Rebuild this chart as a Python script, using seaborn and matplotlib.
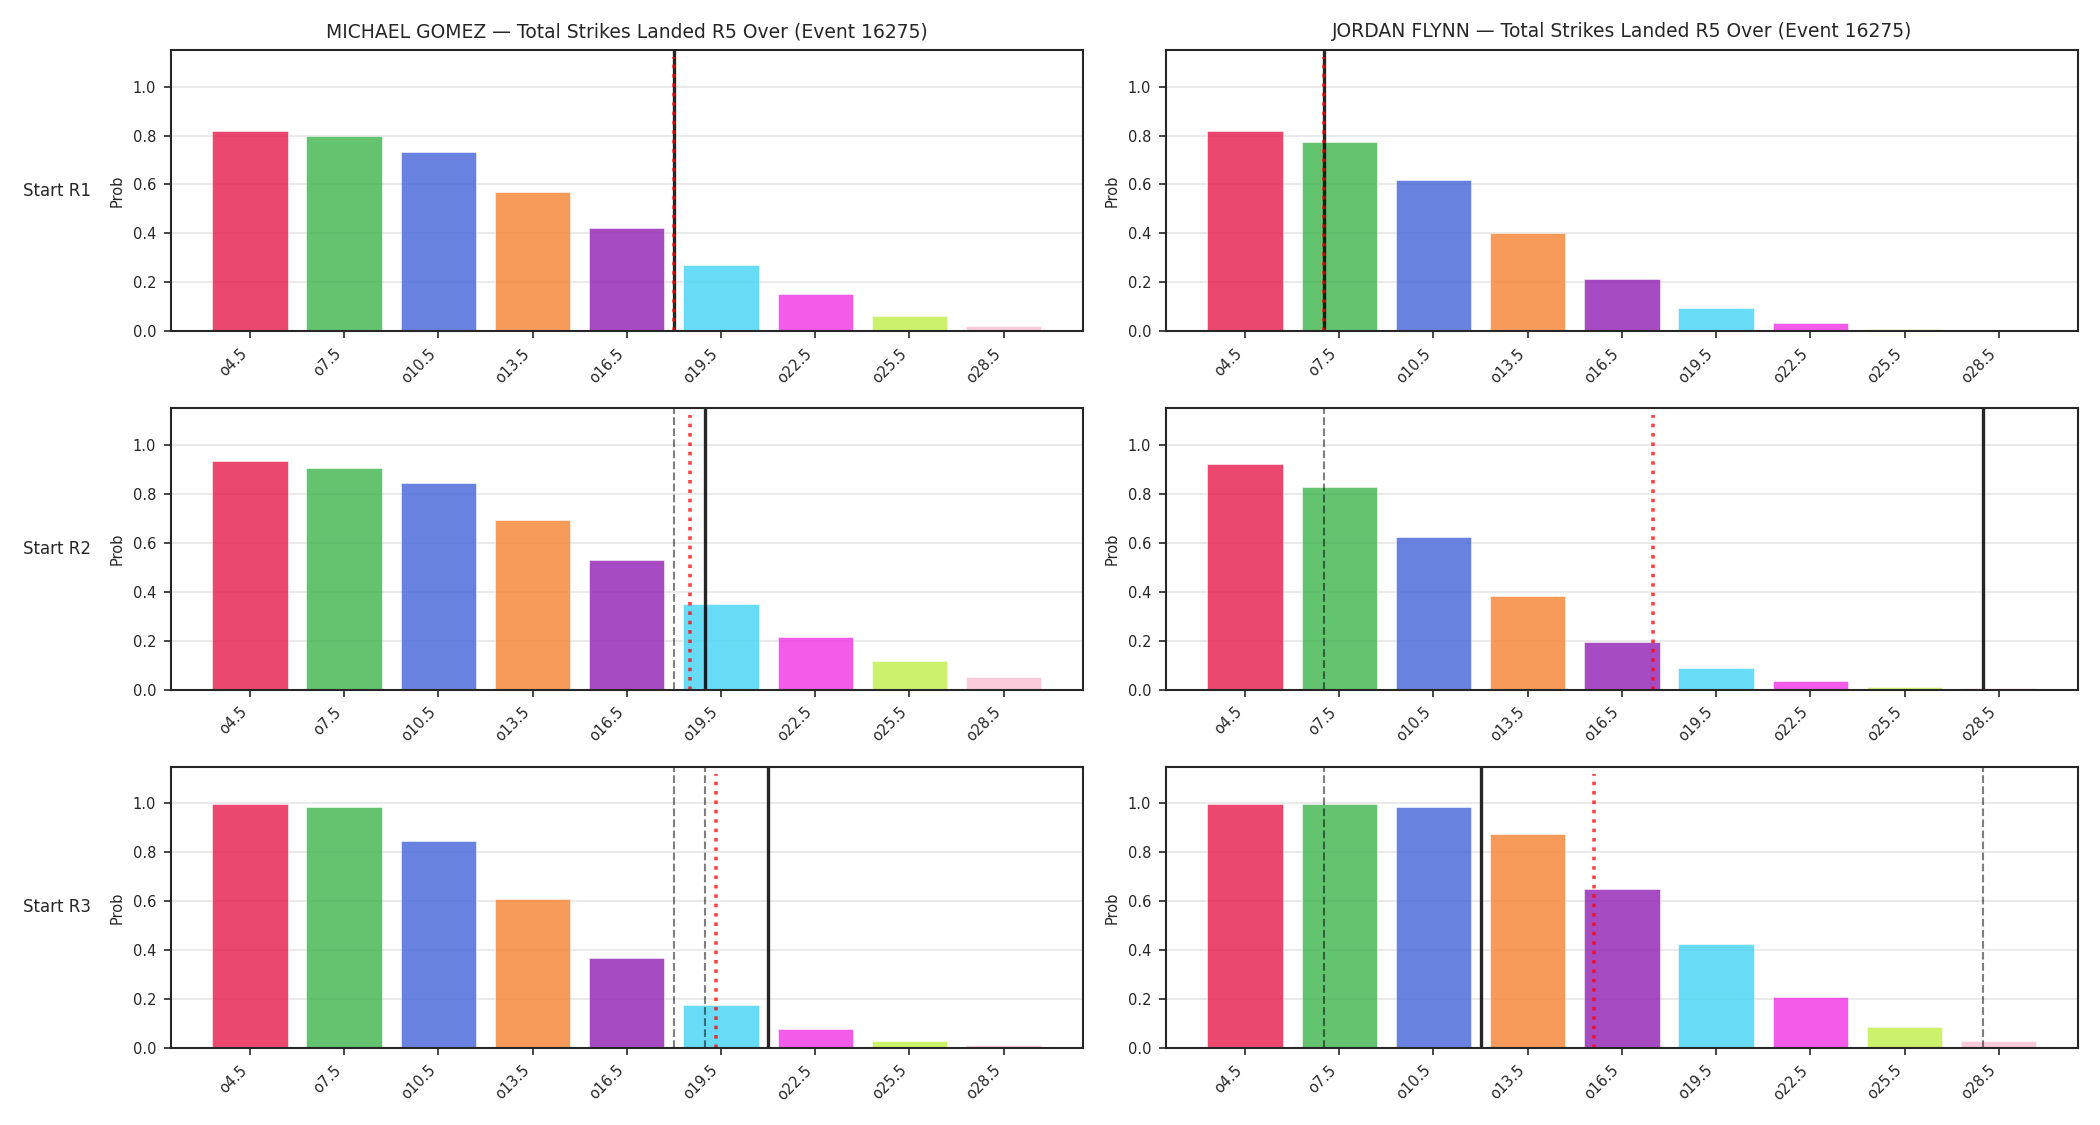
import matplotlib
matplotlib.use("Agg")
import matplotlib.pyplot as plt
import pandas as pd
import seaborn as sns

# Umbrales (over) y etiquetas
thresholds = [4.5, 7.5, 10.5, 13.5, 16.5, 19.5, 22.5, 25.5, 28.5]
labels = ["o4.5", "o7.5", "o10.5", "o13.5", "o16.5", "o19.5", "o22.5", "o25.5", "o28.5"]
colors = ["#E6194B", "#3CB44B", "#4363D8", "#F58231", "#911EB4",
          "#42D4F4", "#F032E6", "#BFEF45", "#FABED4"]

fighters = ["MICHAEL GOMEZ", "JORDAN FLYNN"]
starts = ["Start R1", "Start R2", "Start R3"]
event_id = 16275

# Probabilidades por escenario de inicio
gomez_r1 = [0.818, 0.798, 0.732, 0.571, 0.424, 0.271, 0.153, 0.063, 0.022]
gomez_r2 = [0.935, 0.908, 0.843, 0.695, 0.532, 0.352, 0.217, 0.118, 0.053]
gomez_r3 = [0.998, 0.985, 0.847, 0.611, 0.368, 0.175, 0.077, 0.028, 0.011]
flynn_r1 = [0.818, 0.772, 0.620, 0.402, 0.214, 0.094, 0.033, 0.008, 0.002]
flynn_r2 = [0.922, 0.830, 0.623, 0.384, 0.196, 0.090, 0.035, 0.012, 0.006]
flynn_r3 = [0.998, 0.998, 0.986, 0.875, 0.651, 0.426, 0.208, 0.085, 0.028]

# Lineas verticales (en golpes)
gomez_solid = [18.0, 19.0, 21.0]
gomez_dashed = [[], [18.0], [18.0, 19.0]]
gomez_dotted = [18.0, 18.5, 19.35]
flynn_solid = [7.0, 28.0, 12.0]
flynn_dashed = [[], [7.0], [7.0, 28.0]]
flynn_dotted = [7.0, 17.5, 15.6]

probs = [[gomez_r1, flynn_r1], [gomez_r2, flynn_r2], [gomez_r3, flynn_r3]]
solids = [gomez_solid, flynn_solid]
dashes = [gomez_dashed, flynn_dashed]
dots = [gomez_dotted, flynn_dotted]

sns.set_style("ticks")
plt.rcParams["font.family"] = ["DejaVu Sans"]

fig, axes = plt.subplots(3, 2, figsize=(14, 7.5))
plt.subplots_adjust(left=0.0813, right=0.9895, top=0.9556, bottom=0.0684,
                    wspace=0.091, hspace=0.274)

pad = 1.2 + 0.05 * (thresholds[-1] - thresholds[0] + 2.4)

for r in range(3):
    for c in range(2):
        ax = axes[r, c]
        df = pd.DataFrame({"line": thresholds, "label": labels, "prob": probs[r][c]})
        sns.barplot(data=df, x="line", y="prob", hue="label", palette=colors,
                    native_scale=True, dodge=False, legend=False, saturation=1,
                    alpha=0.8, edgecolor="white", linewidth=0.3, ax=ax)

        ax.axvline(solids[c][r], color="black", alpha=0.85, lw=1.6)
        for v in dashes[c][r]:
            ax.axvline(v, color="black", alpha=0.5, lw=1.0, ls="--")
        ax.axvline(dots[c][r], color="red", alpha=0.75, lw=1.7, ls=":", ymax=0.975)

        ax.set_xlim(thresholds[0] - pad, thresholds[-1] + pad)
        ax.set_ylim(0, 1.15)
        ax.set_xticks(thresholds)
        ax.set_xticklabels(labels, rotation=45, ha="right", fontsize=7)
        ax.tick_params(axis="y", labelsize=7)
        ax.set_xlabel("")
        ax.set_ylabel("Prob", fontsize=7)
        ax.grid(axis="y", color="#e6e6e6", lw=0.8)
        ax.set_axisbelow(True)
        for s in ax.spines.values():
            s.set_color("#262626")
            s.set_linewidth(1.0)

        if r == 0:
            ax.set_title(f"{fighters[c]} — Total Strikes Landed R5 Over (Event {event_id})",
                         fontsize=9)

    pos = axes[r, 0].get_position()
    fig.text(23 / 2100, (pos.y0 + pos.y1) / 2, starts[r], ha="left", va="center", fontsize=8)

fig.savefig("out.png", dpi=150)
